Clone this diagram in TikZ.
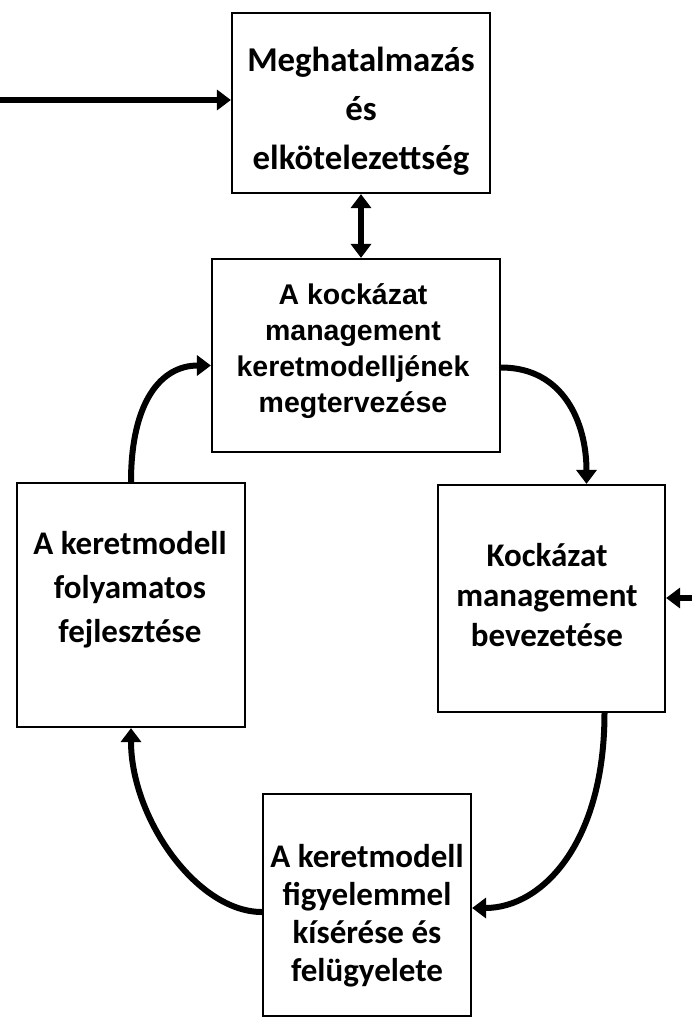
\documentclass[tikz,border=0pt]{standalone}
\usepackage{fontspec}
\setmainfont{Carlito}
\newfontfamily\arialf{Liberation Sans}
\usetikzlibrary{arrows.meta}
\begin{document}
\begin{tikzpicture}[x=1pt,y=-1pt,
  box/.style={draw, line width=2.2pt, rectangle, inner sep=0pt},
  lbl/.style={inner sep=0pt, align=center, text=black},
  cal/.style={font=\bfseries\fontsize{33}{#1}\selectfont},
  conn/.style={line width=6pt, -{Triangle[length=14pt,width=20pt]}},
  dconn/.style={line width=6pt, {Triangle[length=14pt,width=20pt]}-{Triangle[length=14pt,width=20pt]}}
]
\useasboundingbox (0,0) rectangle (692,1021);
% boxes
\node[box, minimum width=258pt, minimum height=180pt] (top) at (361,103) {};
\node[box, minimum width=288pt, minimum height=193pt] (mid) at (356,355.5) {};
\node[box, minimum width=228pt, minimum height=244pt] (lb) at (131,605) {};
\node[box, minimum width=227pt, minimum height=227pt] (rb) at (551.5,598.5) {};
\node[box, minimum width=208pt, minimum height=222pt] (bot) at (367,905) {};
% texts
\node[lbl, font=\bfseries\fontsize{34.8}{49}\selectfont] (topt) at (361,111) {Meghatalmazás\\és\\elkötelezettség};
\node[lbl, font=\arialf\bfseries\fontsize{28.5}{36}\selectfont] (midt) at (353,351) {A kockázat\\management\\keretmodelljének\\megtervezése};
\node[lbl, cal=44] (lbt) at (130,590) {A keretmodell\\folyamatos\\fejlesztése};
\node[lbl, cal=40] (rbt) at (547,595) {Kockázat\\management\\bevezetése};
\node[lbl, cal=38] (bott) at (367,916) {A keretmodell\\figyelemmel\\kísérése és\\felügyelete};
% incoming arrows
\coordinate (in1) at (0,100);
\coordinate (in2) at (692,598);
\draw[conn] (in1) -- (in1 -| top.west);
\draw[conn] (in2) -- (in2 -| rb.east);
% double arrow
\draw[dconn] (top.south) -- (top.south |- mid.north);
% cycle
\draw[conn] ([yshift=-12pt]mid.east) .. controls +(62,0) and +(0,-62) .. ([xshift=35pt]rb.north);
\draw[conn] ([xshift=53pt]rb.south) .. controls +(0,130) and +(70,0) .. ([yshift=-3pt]bot.east);
\draw[conn] ([yshift=-7pt]bot.west) .. controls +(-65,0) and +(0,90) .. (lb.south);
\draw[conn] (lb.north) .. controls +(0,-80) and +(-50,0) .. ([yshift=-10pt]mid.west);
\end{tikzpicture}
\end{document}
